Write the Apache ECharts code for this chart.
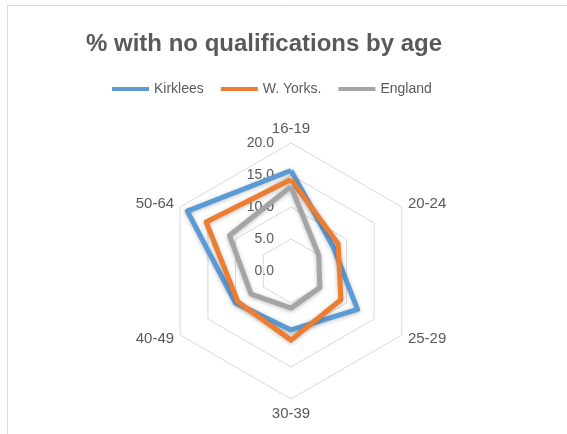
<!DOCTYPE html>
<html>
<head>
<meta charset="utf-8">
<script src="https://cdn.jsdelivr.net/npm/echarts@6/dist/echarts.min.js"></script>
<style>
html,body{margin:0;padding:0;background:#fff;}
#chart{width:567px;height:434px;}
</style>
</head>
<body>
<div id="chart"></div>
<script>
// Categories in clockwise order starting at the top
var categories = ['16-19', '20-24', '25-29', '30-39', '40-49', '50-64'];
var kirklees = [15.7, 7.6, 12.0, 9.2, 10.0, 18.7];
var wYorks   = [14.3, 8.5, 9.0, 10.8, 9.6, 15.3];
var england  = [13.2, 5.0, 5.2, 5.8, 7.2, 11.1];
var seriesNames = ['Kirklees', 'W. Yorks.', 'England'];
var seriesColors = ['#5B9BD5', '#ED7D31', '#A5A5A5'];
var axisMax = 20;
var axisInterval = 5;

// ECharts places indicators counter-clockwise; reorder to get clockwise layout
var order = [0];
for (var i = categories.length - 1; i >= 1; i--) order.push(i);
function reorder(arr) { return order.map(function (k) { return arr[k]; }); }

var indicators = reorder(categories).map(function (c, idx) {
  var ind = { name: c, min: 0, max: axisMax };
  if (idx === 0) ind.axisLabel = { show: true };
  return ind;
});

var font = 'Liberation Sans, Arial, sans-serif';
var chart = echarts.init(document.getElementById('chart'), null, { renderer: 'canvas' });
var allData = [kirklees, wYorks, england];

chart.setOption({
  backgroundColor: '#ffffff',
  animation: false,
  graphic: [{
    type: 'rect',
    shape: { x: 7.5, y: 5.5, width: 700, height: 600 },
    style: { fill: 'none', stroke: '#D9D9D9', lineWidth: 1 },
    silent: true, z: -10
  }],
  title: {
    text: '% with no qualifications by age',
    left: 86, top: 32, padding: 0,
    textStyle: { fontFamily: font, fontSize: 24, fontWeight: 'bold', color: '#595959' }
  },
  legend: {
    data: seriesNames,
    left: 112, top: 82, padding: 0,
    itemWidth: 37, itemHeight: 4, itemGap: 17,
    icon: 'rect',
    textStyle: { fontFamily: font, fontSize: 14, color: '#595959' }
  },
  radar: {
    center: [291, 271],
    radius: 128,
    startAngle: 90,
    shape: 'polygon',
    splitNumber: 4,
    indicator: indicators,
    nameGap: 7,
    axisName: { fontFamily: font, fontSize: 15, color: '#595959' },
    axisLine: { show: false },
    axisTick: { show: false },
    axisLabel: { show: false, fontFamily: font, fontSize: 14, color: '#595959', margin: 17,
      formatter: function (v) { return Number(v).toFixed(1); } },
    splitLine: { lineStyle: { color: '#D9D9D9', width: 1 } },
    splitArea: { show: false }
  },
  series: seriesNames.map(function (n, si) {
    return {
      type: 'radar',
      name: n,
      symbol: 'none',
      lineStyle: { width: 5, color: seriesColors[si], shadowColor: 'rgba(0,0,0,0.25)', shadowBlur: 4, shadowOffsetY: 1 },
      itemStyle: { color: seriesColors[si] },
      data: [{ value: reorder(allData[si]), name: n }]
    };
  })
});
</script>
</body>
</html>
